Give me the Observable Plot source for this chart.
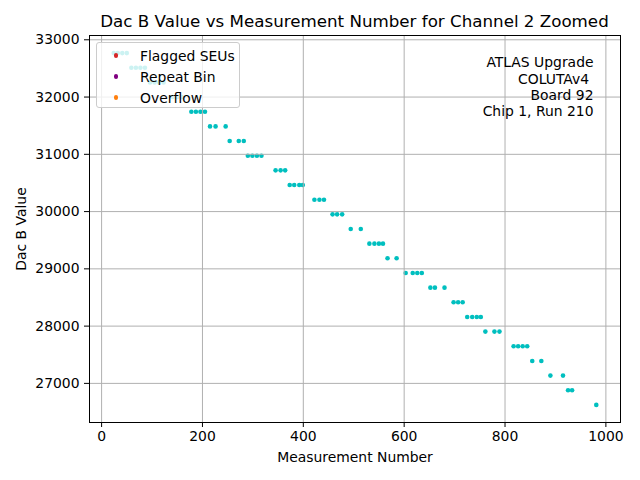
<!DOCTYPE html>
<html>
<head>
<meta charset="utf-8">
<script src="https://cdn.jsdelivr.net/npm/d3@7"></script>
<script src="https://cdn.jsdelivr.net/npm/@observablehq/plot@0.6"></script>
<style>
  body { margin: 0; background: #fff; font-family: "DejaVu Sans", sans-serif; }
  #wrap { position: relative; width: 640px; height: 480px; overflow: hidden; }
  #title { position: absolute; left: 89px; width: 531px; top: 11px; line-height: 20px; text-align: center; font-size: 16.7px; color: #000; white-space: nowrap; }
  #chart { position: absolute; left: 0; top: 30px; }
  #legend { position: absolute; left: 96px; top: 42px; width: 144px; height: 66px; background: rgba(255,255,255,0.8); border: 1px solid #cccccc; border-radius: 3px; box-sizing: border-box; }
  .row { position: absolute; left: 0; height: 18px; width: 142px; font-size: 13.9px; line-height: 18px; color: #000; }
  .dot { position: absolute; left: 16.5px; top: 6.5px; width: 4.5px; height: 4.5px; border-radius: 50%; }
  .lab { position: absolute; left: 43px; top: 0; white-space: nowrap; }
</style>
</head>
<body>
<div id="wrap">
  <div id="title"></div>
  <div id="chart"></div>
  <div id="legend"></div>
</div>
<script>
const measurement = [
  24, 32, 41, 50,
  59, 68, 77, 86,
  96, 105, 114, 123,
  141, 150, 159,
  178, 187, 196, 205,
  215, 226, 246,
  254, 272, 282,
  290, 299, 308, 317,
  345, 355, 364,
  373, 382, 392, 399,
  422, 432, 441,
  458, 467, 477,
  494, 514,
  531, 541, 550, 558,
  567, 585,
  603, 617, 626, 635,
  652, 661, 680,
  698, 707, 716,
  725, 735, 744, 752,
  761, 779, 789,
  817, 826, 835, 844,
  854, 872,
  890, 915,
  925, 933,
  981
];
const dacB = [
  32768, 32768, 32768, 32768,
  32512, 32512, 32512, 32512,
  32256, 32256, 32256, 32256,
  32000, 32000, 32000,
  31744, 31744, 31744, 31744,
  31488, 31488, 31488,
  31232, 31232, 31232,
  30976, 30976, 30976, 30976,
  30720, 30720, 30720,
  30464, 30464, 30464, 30464,
  30208, 30208, 30208,
  29952, 29952, 29952,
  29696, 29696,
  29440, 29440, 29440, 29440,
  29184, 29184,
  28928, 28928, 28928, 28928,
  28672, 28672, 28672,
  28416, 28416, 28416,
  28160, 28160, 28160, 28160,
  27904, 27904, 27904,
  27648, 27648, 27648, 27648,
  27392, 27392,
  27136, 27136,
  26880, 26880,
  26624
];
const xTicks = [0, 200, 400, 600, 800, 1000];
const yTicks = [27000, 28000, 29000, 30000, 31000, 32000, 33000];
const legendLabels = ["Flagged SEUs", "Repeat Bin", "Overflow"];
const legendColors = ["#d62728", "#800080", "#ff7f0e"];
const annotationLines = ["ATLAS Upgrade", "COLUTAv4\u00a0", "Board 92", "Chip 1, Run 210"];
const titleText = "Dac B Value vs Measurement Number for Channel 2 Zoomed";

document.getElementById("title").textContent = titleText;

const data = measurement.map((m, i) => ({m, v: dacB[i]}));

const chart = Plot.plot({
  width: 640,
  height: 450,
  marginLeft: 89,
  marginRight: 20,
  marginTop: 5,
  marginBottom: 58,
  style: {fontFamily: "DejaVu Sans", fontSize: "13.9px", color: "black", background: "white"},
  x: {domain: [-24, 1029]},
  y: {domain: [26317, 33075]},
  marks: [
    Plot.dot(data, {x: "m", y: "v", r: 2.3, fill: "#00bfbf", stroke: null}),
    Plot.gridX(xTicks, {stroke: "#b0b0b0", strokeOpacity: 1, strokeWidth: 1}),
    Plot.gridY(yTicks, {stroke: "#b0b0b0", strokeOpacity: 1, strokeWidth: 1}),
    Plot.axisX(xTicks, {tickSize: 5, tickPadding: 4, tickFormat: d => String(d), label: "Measurement Number", labelAnchor: "center", labelArrow: "none", labelOffset: 39, fontSize: 13.9}),
    Plot.axisY(yTicks, {tickSize: 5, tickPadding: 5, tickFormat: d => String(d), label: "Dac B Value", labelAnchor: "center", labelArrow: "none", labelOffset: 73, fontSize: 13.9}),
    Plot.frame({stroke: "black", strokeWidth: 1}),
    Plot.text([annotationLines.join("\n")], {frameAnchor: "top-right", textAnchor: "end", lineAnchor: "top", lineHeight: 1.16, dx: -27, dy: 20.5, fontSize: 13.9, fill: "black"})
  ]
});
document.getElementById("chart").appendChild(chart);

const legend = document.getElementById("legend");
legendLabels.forEach((lab, i) => {
  const row = document.createElement("div");
  row.className = "row";
  row.style.top = (3.5 + i * 21) + "px";
  const dot = document.createElement("div");
  dot.className = "dot";
  dot.style.background = legendColors[i];
  const t = document.createElement("div");
  t.className = "lab";
  t.textContent = lab;
  row.appendChild(dot);
  row.appendChild(t);
  legend.appendChild(row);
});
</script>
</body>
</html>
